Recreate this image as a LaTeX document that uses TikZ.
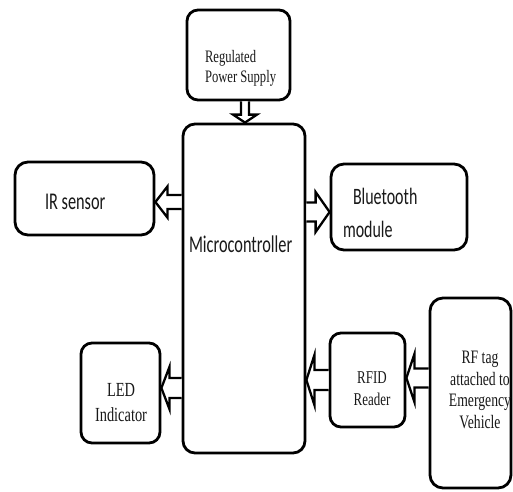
\documentclass[tikz,border=0pt]{standalone}
\usepackage{fontspec}
\usetikzlibrary{calc}
\newfontfamily\tmsfont[FakeStretch=0.72]{Liberation Serif}
\newfontfamily\calfont[FakeStretch=0.68]{Carlito}
\tikzset{
  box/.style={draw=black, line width=2.8pt, rounded corners=11pt, rectangle, inner sep=0pt},
  txt/.style={inner sep=0pt, outer sep=0pt, text=black!90},
  arrowline/.style={draw=black, line width=2.3pt, line join=miter, fill=white},
  ba/.style args={#1/#2/#3}{to path={let \p1=(\tikztostart), \p2=(\tikztotarget),
     \n1={atan2(\y2-\y1,\x2-\x1)}, \n2={veclen(\x2-\x1,\y2-\y1)} in
     ($(\p1)+(\n1+90:#1pt)$) -- ($(\p1)+(\n1:\n2-#3pt)+(\n1+90:#1pt)$)
     -- ($(\p1)+(\n1:\n2-#3pt)+(\n1+90:#2pt)$) -- (\p2)
     -- ($(\p1)+(\n1:\n2-#3pt)+(\n1-90:#2pt)$) -- ($(\p1)+(\n1:\n2-#3pt)+(\n1-90:#1pt)$)
     -- ($(\p1)+(\n1-90:#1pt)$)}}
}
\begin{document}
\begin{tikzpicture}[x=1pt,y=-1pt]
\path[fill=white] (0,0) rectangle (513,491);
\useasboundingbox (0,0) rectangle (513,491);

% boxes
\node[box, minimum width=103pt, minimum height=90pt] (psu) at (238.5,55) {};
\node[box, minimum width=122pt, minimum height=329pt, rounded corners=12pt] (micro) at (244,288.5) {};
\node[box, minimum width=139pt, minimum height=73pt, rounded corners=13pt] (ir) at (84.5,198.5) {};
\node[box, minimum width=136pt, minimum height=86pt, rounded corners=13pt] (bt) at (399,207) {};
\node[box, minimum width=79pt, minimum height=100pt] (led) at (120.5,393) {};
\node[box, minimum width=75pt, minimum height=94pt] (rfid) at (367.5,380) {};
\node[box, minimum width=81pt, minimum height=190pt, rounded corners=13pt] (rftag) at (470.5,393) {};

% texts
\node[txt, anchor=north west, align=left, font={\tmsfont\fontsize{17.5}{20}\selectfont}] (psuT) at (205,50.5) {Regulated\\Power Supply};
\node[txt, anchor=base west, font={\calfont\fontsize{24}{28}\selectfont}] (irT) at (45,209) {IR sensor};
\node[txt, anchor=base west, font={\calfont\fontsize{24}{28}\selectfont}] (microT) at (189,252) {Microcontroller};
\node[txt, anchor=base west, font={\calfont\fontsize{23.5}{28}\selectfont}] (btT1) at (353,204) {Bluetooth};
\node[txt, anchor=base west, font={\calfont\fontsize{23.5}{28}\selectfont}] (btT2) at (343,237) {module};
\node[txt, anchor=north, align=center, font={\tmsfont\fontsize{20}{25}\selectfont}] (ledT) at (121,383) {LED\\Indicator};
\node[txt, anchor=north, align=center, font={\tmsfont\fontsize{18}{22}\selectfont}] (rfidT) at (372,372) {RFID\\Reader};
\node[txt, anchor=north, align=center, font={\tmsfont\fontsize{19}{21.5}\selectfont}] (rftagT) at (480,351.5) {RF tag\\attached to\\Emergency\\Vehicle};

% anchor points for connectors
\coordinate (pa) at ($(psu.south)+(6.5,0)$);
\coordinate (ia) at ($(ir.east)+(0,3.5)$);
\coordinate (bta) at ($(bt.west)+(0,5)$);
\coordinate (la) at ($(led.east)+(0,-5)$);
\coordinate (ta) at ($(rfid.east)+(0,-2)$);

% hollow block arrows
\draw[arrowline, ba=4/12/8] (pa) to (pa |- micro.north);
\draw[arrowline, ba=7/15.5/12] (micro.west |- ia) to (ia);
\draw[arrowline, ba=9.5/20/14] (micro.east |- bta) to (bta);
\draw[arrowline, ba=10/21/8] (micro.west |- la) to (la);
\draw[arrowline, ba=10/25/8] (rfid.west) to (micro.east |- rfid.west);
\draw[arrowline, ba=9.5/24/8] (rftag.west |- ta) to (ta);
\end{tikzpicture}
\end{document}
